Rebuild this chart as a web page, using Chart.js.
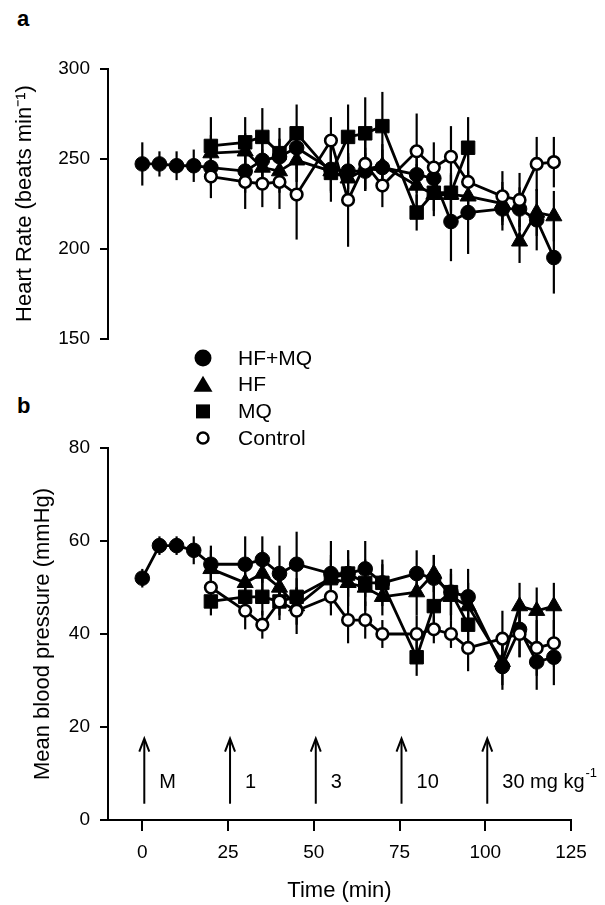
<!DOCTYPE html>
<html>
<head>
<meta charset="utf-8">
<script src="https://cdn.jsdelivr.net/npm/chart.js@4.4.1/dist/chart.umd.min.js"></script>
<style>
  html, body { margin: 0; padding: 0; background: #fff; }
  #wrap { position: relative; width: 605px; height: 905px; font-family: "Liberation Sans", Arial, sans-serif; }
  canvas { position: absolute; left: 0; top: 0; }
  .panel { position: absolute; font-weight: bold; font-size: 22px; line-height: 22px; color: #000; }
</style>
</head>
<body>
<div id="wrap">
  <div class="panel" style="left:17px;top:8px">a</div>
  <div class="panel" style="left:17px;top:395px">b</div>
  <canvas id="hr" width="605" height="360"></canvas>
  <canvas id="bp" width="605" height="905"></canvas>
</div>
<script>
// sampling times (min)
const timesAll = [0, 5, 10, 15, 20, 30, 35, 40, 45, 55, 60, 65, 70, 80, 85, 90, 95, 105, 110, 115, 120];
const timesDrug = [20, 30, 35, 40, 45, 55, 60, 65, 70, 80, 85, 90, 95, 105, 110, 115, 120];
const timesMQ = [20, 30, 35, 40, 45, 55, 60, 65, 70, 80, 85, 90, 95];

const xTicks = [0, 25, 50, 75, 100, 125];
const hrTicks = [150, 200, 250, 300];
const bpTicks = [0, 20, 40, 60, 80];
const seriesNames = ['HF+MQ', 'HF', 'MQ', 'Control'];

// heart rate (beats/min), mean +- SEM
const hrHFMQ = [247, 247, 246, 246, 245, 243, 249, 251, 256, 244, 243, 243, 245, 241, 239, 215, 220, 222, 222, 216, 195];
const hrHFMQErr = [12, 7, 8, 9, 10, 12, 10, 10, 12, 12, 10, 10, 10, 10, 10, 22, 23, 12, 12, 17, 20];
const hrHF = [253, 254, 245, 243, 249, 243, 239, 244, 246, 235, 230, 230, 229, 225, 204, 220, 218];
const hrHFErr = [10, 10, 10, 12, 12, 12, 12, 12, 12, 12, 12, 12, 12, 12, 12, 13, 14];
const hrMQ = [257, 259, 262, 253, 264, 242, 262, 264, 268, 220, 231, 231, 256];
const hrMQErr = [16, 14, 16, 14, 16, 16, 18, 20, 19, 10, 10, 10, 17];
const hrCtrl = [240, 237, 236, 237, 230, 260, 227, 247, 235, 254, 245, 251, 237, 229, 227, 247, 248];
const hrCtrlErr = [12, 15, 13, 15, 25, 13, 26, 15, 12, 21, 14, 17, 15, 14, 15, 15, 14];

// mean blood pressure (mmHg), mean +- SEM
const bpHFMQ = [52, 59, 59, 58, 55, 55, 56, 53, 55, 53, 53, 54, 51, 53, 52, 49, 48, 33, 41, 34, 35];
const bpHFMQErr = [2, 2, 2, 3, 4, 6, 5, 6, 7, 7, 5, 6, 5, 5, 5, 5, 6, 5, 6, 6, 6];
const bpHF = [54, 51, 53, 50, 46, 52, 51, 50, 48, 49, 53, 48, 46, 34, 46, 45, 46];
const bpHFErr = [4, 4, 5, 4, 4, 5, 5, 5, 4, 5, 4, 5, 5, 5, 5, 5, 5];
const bpMQ = [47, 48, 48, 47, 48, 52, 53, 51, 51, 35, 46, 49, 42];
const bpMQErr = [3, 4, 4, 4, 4, 4, 5, 5, 4, 4, 5, 5, 5];
const bpCtrl = [50, 45, 42, 47, 45, 48, 43, 43, 40, 40, 41, 40, 37, 39, 40, 37, 38];
const bpCtrlErr = [3, 4, 3, 3, 5, 4, 5, 4, 3, 4, 3, 3, 5, 6, 5, 6, 5];

// dose arrows
const doseTimes = [0, 25, 50, 75, 100];
const doseLabels = ['M', '1', '3', '10', '30 mg kg'];

const FONT = '"Liberation Sans", Arial, sans-serif';
Chart.defaults.font.family = FONT;
Chart.defaults.color = '#000';

const markerStyle = {
  'HF+MQ': { pointStyle: 'circle', radius: 7.3, fill: '#000', bw: 1 },
  'HF': { pointStyle: 'triangle', radius: 9.3, fill: '#000', bw: 1 },
  'MQ': { pointStyle: 'rect', radius: 9.5, fill: '#000', bw: 1 },
  'Control': { pointStyle: 'circle', radius: 5.8, fill: '#fff', bw: 2.6 },
};

function ds(name, times, vals, errs) {
  const m = markerStyle[name];
  return {
    label: name,
    data: times.map((t, i) => ({ x: t, y: vals[i] })),
    errors: errs,
    borderColor: '#000',
    borderWidth: 2.8,
    tension: 0,
    pointStyle: m.pointStyle,
    pointRadius: m.radius,
    pointBackgroundColor: m.fill,
    pointBorderColor: '#000',
    pointBorderWidth: m.bw,
  };
}

// control on top, like the original
function makeSets(hfmq, hfmqE, hf, hfE, mq, mqE, ctrl, ctrlE) {
  return [
    ds('Control', timesDrug, ctrl, ctrlE),
    ds('HF+MQ', timesAll, hfmq, hfmqE),
    ds('HF', timesDrug, hf, hfE),
    ds('MQ', timesMQ, mq, mqE),
  ];
}

const errorBars = {
  id: 'errorBars',
  beforeDatasetsDraw(chart) {
    const { ctx, scales: { x, y } } = chart;
    ctx.save();
    ctx.strokeStyle = '#000';
    ctx.lineWidth = 2.2;
    chart.data.datasets.forEach(d => {
      d.data.forEach((p, i) => {
        const e = d.errors[i];
        const px = x.getPixelForValue(p.x);
        ctx.beginPath();
        ctx.moveTo(px, y.getPixelForValue(p.y - e));
        ctx.lineTo(px, y.getPixelForValue(p.y + e));
        ctx.stroke();
      });
    });
    ctx.restore();
  }
};

function drawMarker(ctx, name, x, y) {
  ctx.fillStyle = '#000';
  ctx.strokeStyle = '#000';
  ctx.beginPath();
  if (name === 'HF+MQ') {
    ctx.arc(x, y, 8.5, 0, Math.PI * 2);
    ctx.fill();
  } else if (name === 'HF') {
    ctx.moveTo(x, y - 9);
    ctx.lineTo(x + 9.5, y + 7);
    ctx.lineTo(x - 9.5, y + 7);
    ctx.closePath();
    ctx.fill();
  } else if (name === 'MQ') {
    ctx.rect(x - 7, y - 7, 14, 14);
    ctx.fill();
  } else {
    ctx.lineWidth = 2.5;
    ctx.arc(x, y, 5.5, 0, Math.PI * 2);
    ctx.fillStyle = '#fff';
    ctx.fill();
    ctx.stroke();
  }
}

const legendBox = {
  id: 'legendBox',
  afterDraw(chart) {
    const ctx = chart.ctx;
    ctx.save();
    ctx.font = '21px ' + FONT;
    ctx.textBaseline = 'middle';
    seriesNames.forEach((name, i) => {
      const y = 358 + i * 26.7;
      drawMarker(ctx, name, 203, y);
      ctx.fillStyle = '#000';
      ctx.fillText(name, 238, y + 1);
    });
    ctx.restore();
  }
};

const doseArrows = {
  id: 'doseArrows',
  afterDatasetsDraw(chart) {
    const { ctx, scales: { x, y } } = chart;
    ctx.save();
    ctx.strokeStyle = '#000';
    ctx.fillStyle = '#000';
    ctx.lineWidth = 2;
    ctx.textBaseline = 'middle';
    doseTimes.forEach((t, i) => {
      const px = x.getPixelForValue(t) + 2;
      const y0 = y.getPixelForValue(3.5);
      const y1 = y.getPixelForValue(17.5);
      ctx.beginPath();
      ctx.moveTo(px, y0);
      ctx.lineTo(px, y1 + 1);
      ctx.stroke();
      ctx.beginPath();
      ctx.moveTo(px - 5, y1 + 13);
      ctx.lineTo(px, y1);
      ctx.lineTo(px + 5, y1 + 13);
      ctx.stroke();
      const ly = y.getPixelForValue(8);
      ctx.font = '20px ' + FONT;
      ctx.fillText(doseLabels[i], px + 15, ly);
      if (i === doseTimes.length - 1) {
        const w = ctx.measureText(doseLabels[i]).width;
        ctx.font = '13px ' + FONT;
        ctx.fillText('-1', px + 15 + w + 1, ly - 9);
      }
    });
    ctx.restore();
  }
};

const tickGrid = (len) => ({
  display: true,
  drawOnChartArea: false,
  drawTicks: true,
  tickLength: len,
  color: '#000',
  lineWidth: 2,
});
const border = { display: true, color: '#000', width: 2 };
const common = {
  responsive: false,
  animation: false,
  events: [],
  plugins: { legend: { display: false }, tooltip: { enabled: false } },
};

new Chart(document.getElementById('hr'), {
  type: 'line',
  data: { datasets: makeSets(hrHFMQ, hrHFMQErr, hrHF, hrHFErr, hrMQ, hrMQErr, hrCtrl, hrCtrlErr) },
  options: {
    ...common,
    layout: { padding: { top: 68.5, right: 34, bottom: 13, left: 0 } },
    scales: {
      x: { type: 'linear', min: -10, max: 125, display: false },
      y: {
        min: 150, max: 300,
        afterBuildTicks: s => { s.ticks = hrTicks.map(v => ({ value: v })); },
        afterFit: s => { s.width = 108; },
        grid: tickGrid(8),
        border,
        ticks: { font: { size: 19 }, padding: 10, color: '#000' },
        title: { display: true, text: 'Heart Rate (beats min\u207B\u00B9)', font: { size: 22 }, padding: { top: 12 }, color: '#000' },
      },
    },
  },
  plugins: [errorBars],
});

new Chart(document.getElementById('bp'), {
  type: 'line',
  data: { datasets: makeSets(bpHFMQ, bpHFMQErr, bpHF, bpHFErr, bpMQ, bpMQErr, bpCtrl, bpCtrlErr) },
  options: {
    ...common,
    layout: { padding: { top: 448, right: 34, bottom: 0, left: 0 } },
    scales: {
      x: {
        type: 'linear', min: -10, max: 125,
        afterBuildTicks: s => { s.ticks = xTicks.map(v => ({ value: v })); },
        afterFit: s => { s.height = 85; },
        grid: tickGrid(11),
        border,
        ticks: { font: { size: 19 }, padding: 10, color: '#000' },
        title: { display: true, text: 'Time (min)', font: { size: 22 }, padding: { bottom: 1 }, color: '#000' },
      },
      y: {
        min: 0, max: 80,
        afterBuildTicks: s => { s.ticks = bpTicks.map(v => ({ value: v })); },
        afterFit: s => { s.width = 108; },
        grid: tickGrid(8),
        border,
        ticks: { font: { size: 19 }, padding: 10, color: '#000' },
        title: { display: true, text: 'Mean blood pressure (mmHg)', font: { size: 22 }, padding: { top: 30 }, color: '#000' },
      },
    },
  },
  plugins: [errorBars, doseArrows, legendBox],
});
</script>
</body>
</html>
